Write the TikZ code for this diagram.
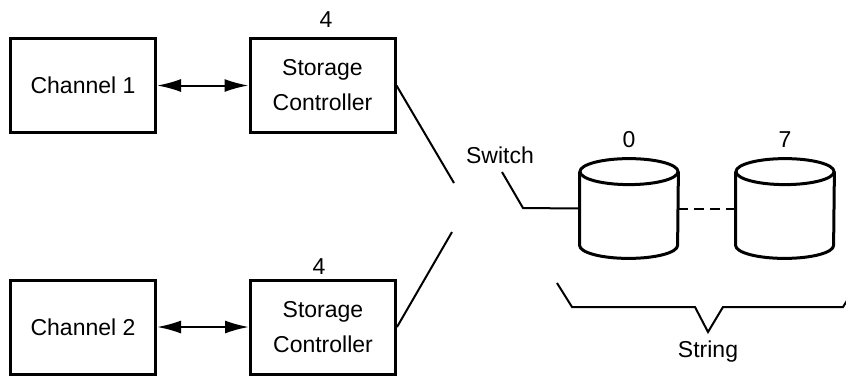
\documentclass[tikz,border=0pt]{standalone}
\usepackage{fontspec}
\setmainfont{Liberation Sans}
\usetikzlibrary{positioning, arrows.meta}

\tikzset{
	unitbox/.style={draw, line width=1.5pt, minimum width=72.5pt, minimum height=47pt, align=center, inner sep=2pt},
	wire/.style={line width=1pt},
	link/.style={wire, {Latex[length=12pt,width=6.5pt]}-{Latex[length=12pt,width=6.5pt]}},
	drum/.style={minimum width=49pt, minimum height=36.5pt, inner sep=0pt},
}

\begin{document}
\begin{tikzpicture}[x=0.5pt, y=-0.5pt, font=\fontsize{11.5}{17.5}\selectfont]
		\useasboundingbox (0, 0) rectangle (846, 377);

		% channels and controllers
		\node[unitbox] (ch1) at (83, 85.5) {Channel 1};
		\node[unitbox] (sc1) at (322.5, 85.5) {Storage\\Controller};
		\node[unitbox] (ch2) at (83, 327) {Channel 2};
		\node[unitbox] (sc2) at (323, 327) {Storage\\Controller};
		\node (n1) at (326, 20) {4};
		\node (n2) at (319, 267) {4};

		\draw[link] (ch1) -- (sc1);
		\draw[link] (ch2) -- (sc2);

		% switch
		\coordinate (sw1) at (454, 183);
		\coordinate (sw2) at (452, 232);
		\draw[wire] (sc1.east) -- (sw1);
		\draw[wire] (sc2.east) -- (sw2);
		\node (sw) at (500, 155) {Switch};
		\coordinate (swtail) at (502, 172);
		\coordinate (swbend) at (523, 208);

		% drives
		\foreach \name/\x/\lbl in {d0/629/0, d7/785/7} {
				\node[drum] (\name) at (\x, 208.5) {};
				\draw[line width=1.5pt] (\name.north west) -- (\name.south west)
					arc[start angle=180, end angle=360, x radius=24.5pt, y radius=6.5pt] -- (\name.north east);
				\draw[line width=1.5pt] (\name.north) ellipse[x radius=24.5pt, y radius=6.5pt];
				\node (lbl\name) at (\x, 140) {\lbl};
			}

		\draw[wire] (swtail) -- (swbend) -- (d0.west);
		\draw[wire, dash pattern=on 5pt off 3pt] (d0.east) -- (d7.west);

		% string
		\draw[wire] (557, 283) -- (572, 307) -- (695, 307) -- (708, 332) -- (723, 307) -- (843, 307) -- (858, 283);
		\node (str) at (708, 352) {String};
	\end{tikzpicture}
\end{document}
